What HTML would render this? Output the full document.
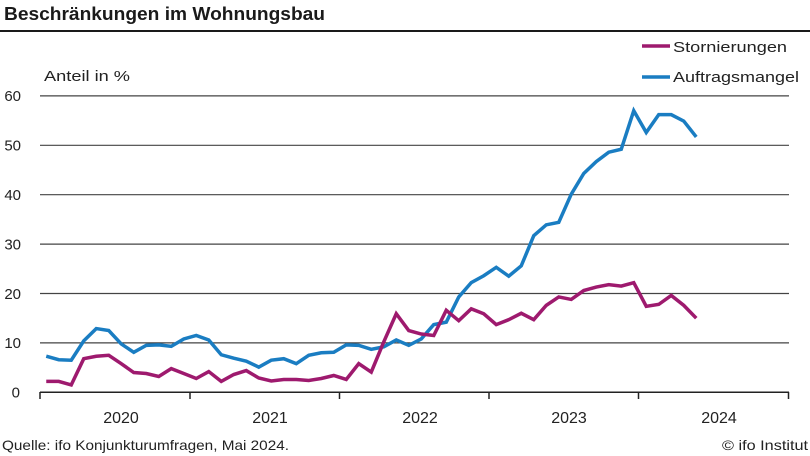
<!DOCTYPE html>
<html><head><meta charset="utf-8"><style>
html,body{margin:0;padding:0;background:#fff;}
svg{display:block;font-family:"Liberation Sans",Arial,sans-serif;}
</style></head><body>
<svg width="810" height="456" viewBox="0 0 810 456" xmlns="http://www.w3.org/2000/svg">
<text x="4" y="20" font-size="18" font-weight="bold" fill="#1a1a1a" textLength="321" lengthAdjust="spacingAndGlyphs">Beschränkungen im Wohnungsbau</text>
<rect x="0" y="30" width="810" height="2" fill="#1a1a1a"/>
<text x="44" y="81" font-size="15" fill="#222" textLength="86" lengthAdjust="spacingAndGlyphs">Anteil in %</text>
<g stroke="#444" stroke-width="1.2">
<line x1="40" y1="95.9" x2="789" y2="95.9"/>
<line x1="40" y1="145.3" x2="789" y2="145.3"/>
<line x1="40" y1="194.7" x2="789" y2="194.7"/>
<line x1="40" y1="244.1" x2="789" y2="244.1"/>
<line x1="40" y1="293.5" x2="789" y2="293.5"/>
<line x1="40" y1="342.9" x2="789" y2="342.9"/>
</g>
<g stroke="#222" stroke-width="1.5">
<line x1="40" y1="392.3" x2="789" y2="392.3"/>
<line x1="40" y1="392" x2="40" y2="399"/>
<line x1="190" y1="392" x2="190" y2="399"/>
<line x1="339.5" y1="392" x2="339.5" y2="399"/>
<line x1="489" y1="392" x2="489" y2="399"/>
<line x1="638.5" y1="392" x2="638.5" y2="399"/>
<line x1="788.5" y1="392" x2="788.5" y2="399"/>
</g>
<g font-size="15" fill="#222" text-anchor="end">
<text x="21" y="101">60</text>
<text x="21" y="150.5">50</text>
<text x="21" y="200">40</text>
<text x="21" y="249.5">30</text>
<text x="21" y="299">20</text>
<text x="21" y="348">10</text>
<text x="20" y="397.5">0</text>
</g>
<g font-size="16" fill="#222" text-anchor="middle">
<text x="121" y="423">2020</text>
<text x="270" y="423">2021</text>
<text x="420" y="423">2022</text>
<text x="569" y="423">2023</text>
<text x="719" y="423">2024</text>
</g>
<text x="2" y="450" font-size="14" fill="#222" textLength="287" lengthAdjust="spacingAndGlyphs">Quelle: ifo Konjunkturumfragen, Mai 2024.</text>
<text x="808" y="450" font-size="14" fill="#222" text-anchor="end" textLength="86" lengthAdjust="spacingAndGlyphs">© ifo Institut</text>
<line x1="642" y1="46" x2="670" y2="46" stroke="#9e1a6e" stroke-width="3.5"/>
<line x1="642" y1="77" x2="670" y2="77" stroke="#1a7dc2" stroke-width="3.5"/>
<text x="673" y="52" font-size="15" fill="#222" textLength="114" lengthAdjust="spacingAndGlyphs">Stornierungen</text>
<text x="673" y="82" font-size="15" fill="#222" textLength="126" lengthAdjust="spacingAndGlyphs">Auftragsmangel</text>
<polyline fill="none" stroke="#1a7dc2" stroke-width="3.5" stroke-linejoin="miter" stroke-miterlimit="3" points="46.25,356.24 58.75,359.70 71.25,360.19 83.75,340.92 96.25,328.57 108.75,330.55 121.25,343.89 133.75,352.29 146.25,345.37 158.75,344.88 171.25,346.36 183.75,338.95 196.25,335.49 208.75,339.94 221.25,354.76 233.75,358.21 246.25,361.18 258.75,367.11 271.25,360.19 283.75,358.71 296.25,363.65 308.75,355.25 321.25,352.78 333.75,352.29 346.25,344.88 358.75,345.37 371.25,349.32 383.75,346.85 396.25,339.94 408.75,345.37 421.25,338.95 433.75,324.62 446.25,322.15 458.75,296.96 471.25,282.63 483.75,275.72 496.25,267.32 508.75,276.21 521.25,265.84 533.75,235.70 546.25,224.83 558.75,222.36 571.25,194.21 583.75,173.46 596.25,161.60 608.75,152.22 621.25,149.25 633.75,110.72 646.25,132.46 658.75,114.67 671.25,114.67 683.75,121.09 696.25,136.90"/>
<polyline fill="none" stroke="#9e1a6e" stroke-width="3.5" stroke-linejoin="miter" stroke-miterlimit="3" points="46.25,381.43 58.75,381.43 71.25,384.89 83.75,358.71 96.25,356.24 108.75,355.25 121.25,363.65 133.75,372.54 146.25,373.53 158.75,376.49 171.25,368.59 183.75,373.53 196.25,378.47 208.75,371.55 221.25,381.43 233.75,374.52 246.25,370.56 258.75,377.97 271.25,380.94 283.75,379.46 296.25,379.46 308.75,380.44 321.25,378.47 333.75,375.50 346.25,379.46 358.75,363.65 371.25,372.05 383.75,341.91 396.25,313.75 408.75,330.55 421.25,334.01 433.75,335.49 446.25,310.30 458.75,320.67 471.25,308.81 483.75,313.75 496.25,324.62 508.75,319.68 521.25,313.26 533.75,319.68 546.25,305.36 558.75,296.96 571.25,299.43 583.75,290.54 596.25,287.08 608.75,284.61 621.25,286.09 633.75,282.63 646.25,306.34 658.75,304.37 671.25,295.48 683.75,305.36 696.25,318.20"/>
</svg>
</body></html>
